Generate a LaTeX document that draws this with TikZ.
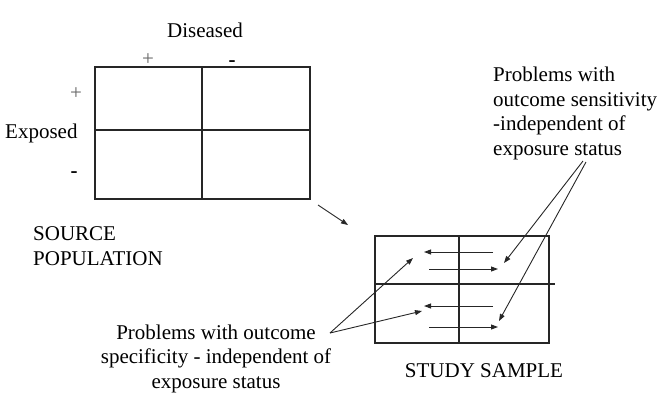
\documentclass[tikz,border=0pt]{standalone}
\usepackage{fontspec}
\setmainfont{Liberation Serif}
\usetikzlibrary{arrows.meta}
\tikzset{
  boxline/.style={draw=black!85, line width=1.1pt},
  arr/.style={draw=black!85, line width=0.9pt, -{Triangle[length=7pt,width=5pt]}},
  lbl/.style={inner sep=0pt, font=\fontsize{21}{24.5}\selectfont},
  sign/.style={inner sep=0pt, font=\fontsize{21}{24.5}\selectfont},
}
\begin{document}
\begin{tikzpicture}[x=1pt,y=-1pt]
\useasboundingbox (0,0) rectangle (659,400);
% source population table
\coordinate (sTL) at (95,67);
\coordinate (sBR) at (310,199);
\draw[boxline] (sTL) rectangle (sBR);
\draw[boxline] (202,67) -- (202,199);
\draw[boxline] (95,130) -- (310,130);
% study sample table
\coordinate (tTL) at (375,236);
\coordinate (tBR) at (549,343);
\draw[boxline] (tTL) rectangle (tBR);
\draw[boxline] (459,236) -- (459,343);
\draw[boxline] (375,284) -- (555,284);
% labels
\node[lbl, anchor=base] (dis) at (205,37) {Diseased};
\node[sign, text=black!60] (dp) at (148,60) {+};
\node[sign] (dm) at (232,64) {\textbf{-}};
\node[sign, text=black!60] (ep) at (76,94) {+};
\node[sign] (em) at (74,175) {\textbf{-}};
\node[lbl, anchor=base west] (exp) at (5,138) {Exposed};
\node[lbl, anchor=base west, align=left] (src) at (33,265) {SOURCE\\POPULATION};
\node[lbl, anchor=base west, align=left] (sens) at (493,155) {Problems with\\outcome sensitivity\\-independent of\\exposure status};
\node[lbl, anchor=base, align=center] (spec) at (216,388) {Problems with outcome\\specificity - independent of\\exposure status};
\node[lbl, anchor=base] (smp) at (484,377) {STUDY SAMPLE};
% arrow end points
\coordinate (a0s) at (318,205); \coordinate (a0e) at (348,225);
\coordinate (b1s) at (493,252); \coordinate (b1e) at (424,252);
\coordinate (b2s) at (429,269); \coordinate (b2e) at (498,269);
\coordinate (b3s) at (493,306); \coordinate (b3e) at (424,306);
\coordinate (b4s) at (429,327); \coordinate (b4e) at (498,327);
\coordinate (l0) at (330,333);
\coordinate (l1) at (413,258); \coordinate (l2) at (422,311);
\coordinate (r1s) at (583,161); \coordinate (r2s) at (586,162);
\coordinate (r1) at (504,263); \coordinate (r2) at (499,321);
% arrows
\draw[arr] (a0s) -- (a0e);
\draw[arr] (b1s) -- (b1e);
\draw[arr] (b2s) -- (b2e);
\draw[arr] (b3s) -- (b3e);
\draw[arr] (b4s) -- (b4e);
\draw[arr] (l0) -- (l1);
\draw[arr] (l0) -- (l2);
\draw[arr] (r1s) -- (r1);
\draw[arr] (r2s) -- (r2);
\end{tikzpicture}
\end{document}
